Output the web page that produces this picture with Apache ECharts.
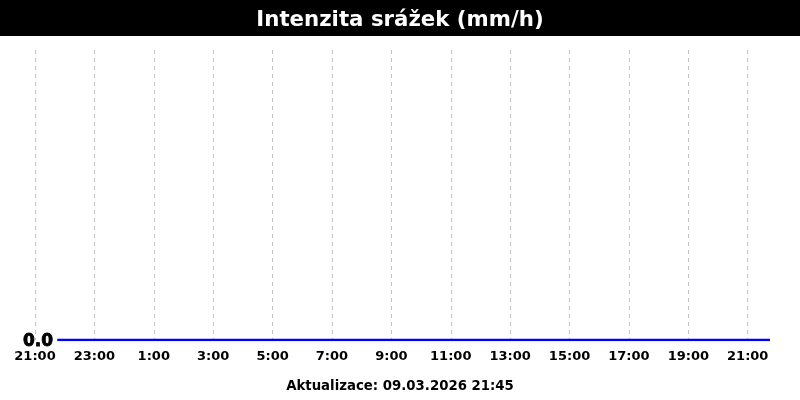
<!DOCTYPE html>
<html>
<head>
<meta charset="utf-8">
<script src="https://cdn.jsdelivr.net/npm/echarts@6/dist/echarts.min.js"></script>
<style>
  html, body { margin: 0; padding: 0; background: #fff; }
  #chart { width: 800px; height: 400px; }
</style>
</head>
<body>
<div id="chart"></div>
<script>
// hodiny od 08.03.2026 21:00
const hours = [0.75, 1.75, 2.75, 3.75, 4.75, 5.75, 6.75, 7.75, 8.75, 9.75, 10.75, 11.75,
  12.75, 13.75, 14.75, 15.75, 16.75, 17.75, 18.75, 19.75, 20.75, 21.75, 22.75, 23.75, 24.75]
const rain = [0, 0, 0, 0, 0, 0, 0, 0, 0, 0, 0, 0, 0, 0, 0, 0, 0, 0, 0, 0, 0, 0, 0, 0, 0]
const tickLabels = ['21:00', '23:00', '1:00', '3:00', '5:00', '7:00', '9:00',
  '11:00', '13:00', '15:00', '17:00', '19:00', '21:00']
const updated = 'Aktualizace: 09.03.2026 21:45'

const font = 'DejaVu Sans'
const chart = echarts.init(document.getElementById('chart'))

chart.setOption({
  animation: false,
  textStyle: { fontFamily: font },
  graphic: [{
    type: 'rect', left: 0, top: 0, z: 0,
    shape: { width: 800, height: 36 },
    style: { fill: '#000' }
  }],
  title: [
    {
      text: 'Intenzita srážek (mm/h)',
      left: 'center', top: 5, z: 10,
      textStyle: { color: '#fff', fontSize: 21.3, fontWeight: 'bold', fontFamily: font }
    },
    {
      text: updated,
      left: 'center', top: 375,
      textStyle: { color: '#000', fontSize: 13.3, fontWeight: 'bold', fontFamily: font }
    }
  ],
  grid: { left: 35, right: 30, top: 50, bottom: 60 },
  xAxis: {
    type: 'value',
    min: 0, max: 24.75, interval: 2,
    axisLine: { show: false },
    axisTick: { show: false },
    axisLabel: {
      color: '#000', fontSize: 13, fontWeight: 'bold', margin: 10,
      showMaxLabel: false,
      formatter: v => tickLabels[v / 2] || ''
    },
    splitLine: {
      show: true, showMaxLine: false,
      lineStyle: { color: '#c4c4c4', type: [4, 4], width: 1 }
    }
  },
  yAxis: {
    type: 'value',
    min: 0, max: 1, interval: 1,
    axisLine: { show: false },
    axisTick: { show: false },
    splitLine: { show: false },
    axisLabel: {
      margin: -18,
      formatter: v => v === 0 ? '{z|' + v.toFixed(1) + '}' : '',
      rich: {
        z: {
          color: '#000', fontSize: 17, fontWeight: 'bold', fontFamily: font,
          textBorderColor: '#000', textBorderWidth: 0.8,
          padding: [4, 0, 0, 0]
        }
      }
    }
  },
  series: [{
    type: 'line',
    data: hours.map((h, i) => [h, rain[i]]),
    symbol: 'none',
    lineStyle: { color: '#0000ff', width: 2.5 },
    z: 5
  }]
})
</script>
</body>
</html>
